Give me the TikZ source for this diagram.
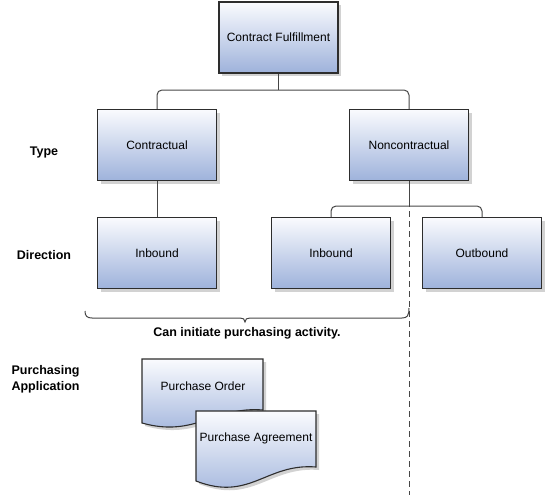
\documentclass[tikz,border=0pt]{standalone}
\usepackage{fontspec}
\setmainfont{Liberation Sans}
\usetikzlibrary{shadows}

\definecolor{boxtop}{RGB}{250,251,254}
\definecolor{boxbot}{RGB}{158,178,219}
\definecolor{edgegray}{RGB}{45,45,45}
\definecolor{wiregray}{RGB}{70,70,70}

\tikzset{
  box/.style={draw=edgegray, line width=1.1pt, top color=boxtop, bottom color=boxbot,
    minimum width=119pt, minimum height=71pt, font=\fontsize{12}{14}\selectfont,
    drop shadow={shadow xshift=3pt, shadow yshift=-3pt, fill=black!25, opacity=0.7}},
  doc/.style={draw=edgegray, line width=1.1pt, top color=boxtop, bottom color=boxbot,
    drop shadow={shadow xshift=3pt, shadow yshift=-3pt, fill=black!25, opacity=0.7}},
  doctext/.style={font=\fontsize{12}{14}\selectfont},
  rowlabel/.style={font=\fontsize{12.5}{16}\selectfont\bfseries, align=left},
  conn/.style={draw=wiregray, line width=1pt, rounded corners=5pt},
  bracket/.style={draw=wiregray, line width=1pt},
  cutline/.style={draw=wiregray, line width=1pt, dash pattern=on 6pt off 4pt}
}

\begin{document}
\begin{tikzpicture}[x=1pt, y=-1pt]
    \useasboundingbox (0,0) rectangle (546,495);

    % Tree boxes
    \node[box] (fulfil) at (278.5, 37.5) {Contract Fulfillment};
    \node[box] (contr)  at (157, 145) {Contractual};
    \node[box] (noncon) at (409, 145) {Noncontractual};
    \node[box] (inbA)   at (157, 253) {Inbound};
    \node[box] (inbB)   at (331, 253) {Inbound};
    \node[box] (outb)   at (482, 253) {Outbound};

    % Row labels
    \node[rowlabel] (type) at (44, 152) {Type};
    \node[rowlabel] (dir)  at (44, 255) {Direction};
    \node[rowlabel, anchor=west] (purch) at (8, 379) {Purchasing\\Application};

    % Connectors
    \coordinate (busA) at (278.5, 90);
    \coordinate (busB) at (409, 206);
    \draw[conn] (fulfil.south) -- (busA);
    \draw[conn] (contr.north) |- (busA) -| (noncon.north);
    \draw[conn] (contr.south) -- (inbA.north);
    \draw[conn] (noncon.south) -- (busB);
    \draw[conn] (inbB.north) |- (busB) -| (outb.north);

    % Dashed split
    \coordinate (cutend) at (409, 495);
    \draw[cutline] (noncon.south) -- (cutend);

    % Brace
    \coordinate (braceL) at (85, 311);
    \coordinate (braceR) at (409, 308);
    \draw[bracket] (braceL) .. controls (85, 316) and (87, 318) .. (92, 318) -- (240, 318)
        .. controls (243, 318) and (245, 319) .. (245, 322)
        .. controls (245, 319) and (247, 318) .. (250, 318) -- (402, 318)
        .. controls (407, 318) and (409, 316) .. (braceR);
    \node[rowlabel] (initiate) at (247, 333) {Can initiate purchasing activity.};

    % Purchasing documents
    \path[doc] (142, 359) -- (263, 359) -- (263, 410)
        .. controls (215, 406) and (195, 438) .. (142, 423) -- cycle;
    \node[doctext] (po) at (203, 386) {Purchase Order};
    \path[doc] (196, 411) -- (316, 411) -- (316, 467)
        .. controls (266, 463) and (250, 502) .. (196, 481) -- cycle;
    \node[doctext] (pa) at (256, 438) {Purchase Agreement};
\end{tikzpicture}
\end{document}
